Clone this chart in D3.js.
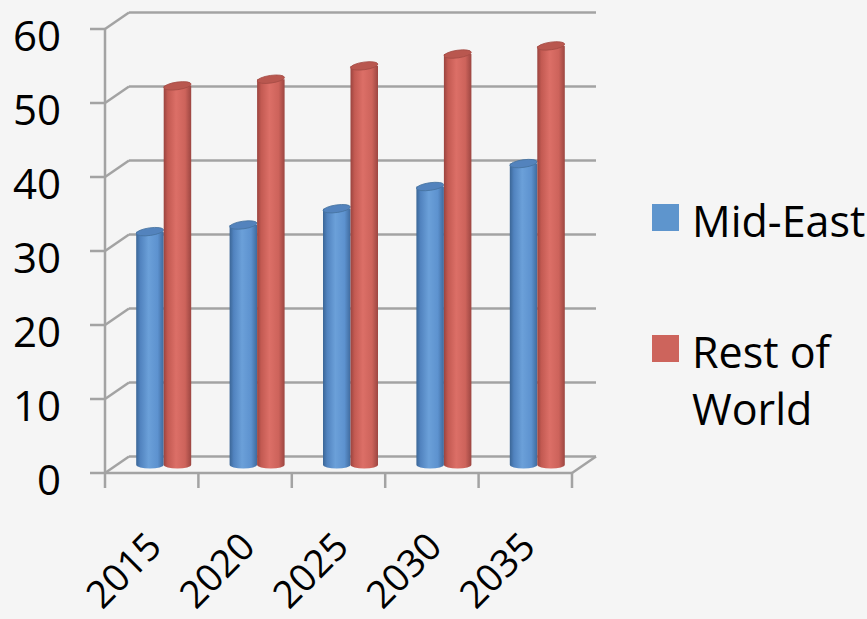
<!DOCTYPE html>
<html>
<head>
<meta charset="utf-8">
<script src="https://cdn.jsdelivr.net/npm/d3@7/dist/d3.min.js"></script>
<style>
  html, body { margin: 0; padding: 0; background: #f5f5f5; }
  svg { display: block; }
  text { font-family: "Open Sans", "Liberation Sans", sans-serif; fill: #000; }
</style>
</head>
<body>
<svg id="chart" width="867" height="619"></svg>
<script>
// Chart data
const years = ["2015", "2020", "2025", "2030", "2035"];
const seriesNames = ["Mid-East", "Rest of World"];
const midEast = [31.5, 32.4, 34.6, 37.6, 40.7];
const restOfWorld = [51.2, 52.1, 53.9, 55.5, 56.6];
const yTicks = [0, 10, 20, 30, 40, 50, 60];

const svg = d3.select("#chart");
const W = 867, H = 619;
svg.append("rect").attr("width", W).attr("height", H).attr("fill", "#f5f5f5");

// Oblique depth offset of the back wall relative to the front plane
const DX = 24, DY = -16.5;

const x = d3.scaleBand().domain(years).range([105, 572]).padding(0);
const y = d3.scaleLinear().domain([0, 60]).range([473, 29]);
const inner = d3.scaleBand().domain(seriesNames)
  .range([x.bandwidth() / 2 - 27.5, x.bandwidth() / 2 + 27.5]).padding(0);

const xL = x.range()[0], xR = x.range()[1];
const gridColor = "#a3a3a3";
const grid = svg.append("g").attr("stroke", gridColor).attr("stroke-width", 2.5).attr("fill", "none");

// Back wall gridlines and the matching diagonals across the side wall
yTicks.forEach(t => {
  grid.append("line")
    .attr("x1", xL + DX).attr("y1", y(t) + DY)
    .attr("x2", xR + DX).attr("y2", y(t) + DY);
  grid.append("line")
    .attr("x1", xL).attr("y1", y(t))
    .attr("x2", xL + DX).attr("y2", y(t) + DY);
  grid.append("line")
    .attr("x1", xL - 15).attr("y1", y(t))
    .attr("x2", xL).attr("y2", y(t));
});

// Floor edges
grid.append("line").attr("x1", xL).attr("y1", y(0)).attr("x2", xR).attr("y2", y(0));
grid.append("line").attr("x1", xR).attr("y1", y(0)).attr("x2", xR + DX).attr("y2", y(0) + DY);

// Value axis line
grid.append("line").attr("x1", xL).attr("y1", y(60)).attr("x2", xL).attr("y2", y(0) + 15);

// Category tick marks at band boundaries
years.forEach((yr, i) => {
  const bx = x(yr) + x.bandwidth();
  grid.append("line").attr("x1", bx).attr("y1", y(0)).attr("x2", bx).attr("y2", y(0) + 15);
});

// Value axis labels
svg.append("g").selectAll("text").data(yTicks).join("text")
  .attr("x", 61)
  .attr("y", d => y(d) + 5)
  .attr("text-anchor", "end")
  .attr("dominant-baseline", "central")
  .attr("font-size", 42)
  .text(d => d);

// Category labels, rotated
svg.append("g").selectAll("text").data(years).join("text")
  .attr("transform", d => `translate(${x(d) + x.bandwidth() / 2 + 12},${549}) rotate(-45)`)
  .attr("text-anchor", "end")
  .attr("font-size", 38)
  .text(d => d);

// Cylinder shading gradients
const defs = svg.append("defs");
const palettes = {
  "Mid-East": { stops: ["#3b6696", "#5183bf", "#6ba0d9", "#5d92cf", "#3f6a9d"], top: "#5383bd", topEdge: "#46739f" },
  "Rest of World": { stops: ["#9a443f", "#c35a52", "#dc6f67", "#cd635b", "#9c4641"], top: "#b9574f", topEdge: "#a44b45" }
};
seriesNames.forEach((s, k) => {
  const g = defs.append("linearGradient").attr("id", "grad" + k)
    .attr("x1", "0%").attr("x2", "100%").attr("y1", "0%").attr("y2", "0%");
  const offs = [0, 0.15, 0.45, 0.78, 1];
  palettes[s].stops.forEach((c, j) => g.append("stop").attr("offset", offs[j]).attr("stop-color", c));
});

const seriesData = [midEast, restOfWorld];
const bars = svg.append("g");
const ry = 3.8;

years.forEach((yr, i) => {
  seriesNames.forEach((s, k) => {
    const v = seriesData[k][i];
    const w = inner.bandwidth();
    const x0 = x(yr) + inner(s) + DX / 2;
    const yBase = y(0) + DY / 2;
    const yTop = y(v) + DY / 2;
    const rx = w / 2;
    bars.append("path")
      .attr("d", `M${x0},${yTop} L${x0},${yBase} A${rx},${ry} 0 0 0 ${x0 + w},${yBase} L${x0 + w},${yTop} Z`)
      .attr("fill", `url(#grad${k})`);
    bars.append("ellipse")
      .attr("cx", x0 + rx).attr("cy", yTop)
      .attr("rx", rx).attr("ry", ry)
      .attr("transform", `rotate(-8,${x0 + rx},${yTop})`)
      .attr("fill", palettes[s].top)
      .attr("stroke", palettes[s].topEdge).attr("stroke-width", 0.8);
  });
});

// Legend
const legend = svg.append("g");
const legendColors = ["#5e95cd", "#cd645c"];
legend.append("rect").attr("x", 652).attr("y", 204).attr("width", 27).attr("height", 27).attr("fill", legendColors[0]);
legend.append("text").attr("x", 692).attr("y", 237).attr("font-size", 43).text("Mid-East");
legend.append("rect").attr("x", 652).attr("y", 335).attr("width", 27).attr("height", 27).attr("fill", legendColors[1]);
const t2 = legend.append("text").attr("x", 692).attr("y", 368).attr("font-size", 43);
t2.append("tspan").attr("x", 692).text("Rest of");
t2.append("tspan").attr("x", 692).attr("dy", 57).text("World");
</script>
</body>
</html>
